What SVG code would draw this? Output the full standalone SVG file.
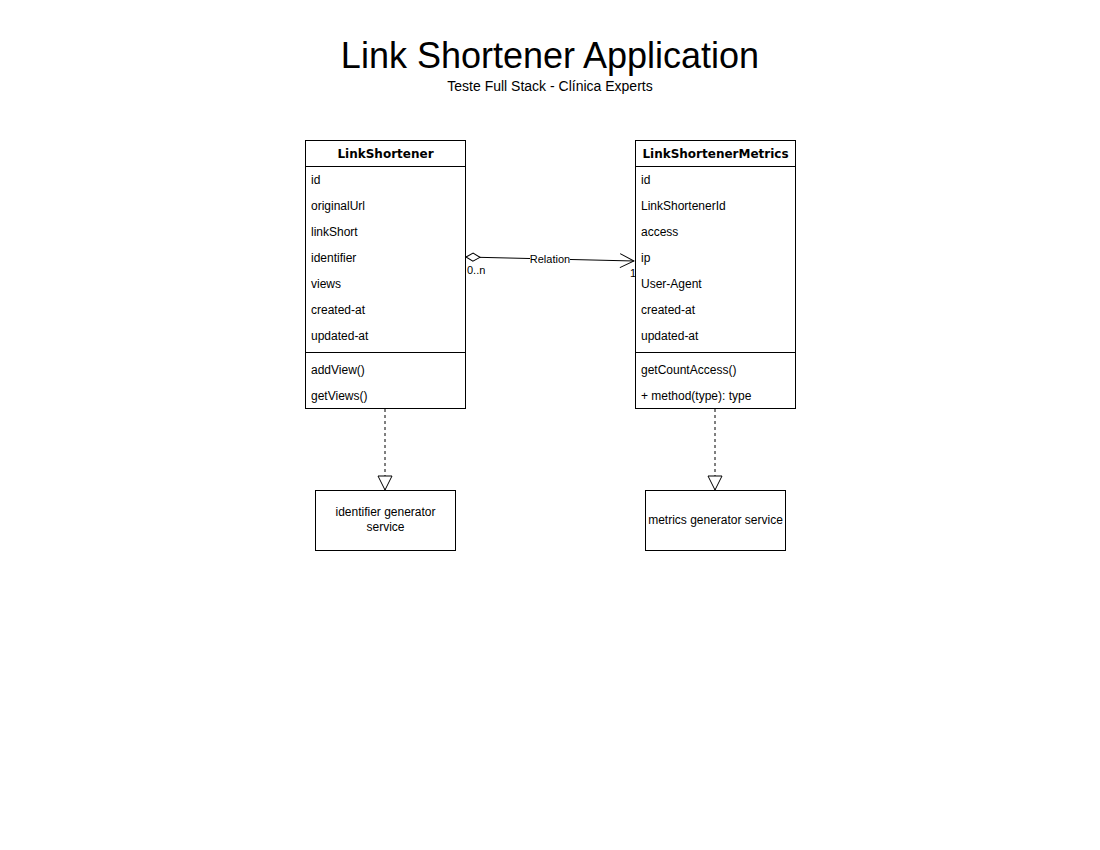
<svg xmlns="http://www.w3.org/2000/svg" width="1100" height="850" viewBox="0 0 1100 850">
<defs>
<style>
text{font-family:"Liberation Sans",Arial,sans-serif;fill:#000}
.t{font-size:12px}
.h{font-family:"DejaVu Sans",Verdana,sans-serif;font-size:12px;font-weight:bold}
.box{fill:#fff;stroke:#000;stroke-width:1}
.ln{stroke:#000;stroke-width:1;fill:none}
.dash{stroke:#000;stroke-width:1;fill:none;stroke-dasharray:3 3}
</style>
<marker id="tri" viewBox="0 0 16 16" refX="15" refY="8" markerWidth="16" markerHeight="16" markerUnits="userSpaceOnUse" orient="auto">
<path d="M1,1 L15,8 L1,15 Z" fill="#fff" stroke="#000" stroke-width="1"/>
</marker>
<marker id="open" viewBox="0 0 16 16" refX="15" refY="8" markerWidth="16" markerHeight="16" markerUnits="userSpaceOnUse" orient="auto">
<path d="M1,1 L15,8 L1,15" fill="none" stroke="#000" stroke-width="1"/>
</marker>
<marker id="dia" viewBox="0 0 18 10" refX="1" refY="5" markerWidth="18" markerHeight="10" markerUnits="userSpaceOnUse" orient="auto">
<path d="M1,5 L8,1 L15,5 L8,9 Z" fill="#fff" stroke="#000" stroke-width="1"/>
</marker>
</defs>
<rect width="1100" height="850" fill="#fff"/>
<g id="title">
<text x="550" y="68" font-size="36" text-anchor="middle">Link Shortener Application</text>
<text x="550" y="91" font-size="14" text-anchor="middle">Teste Full Stack - Clínica Experts</text>
</g>
<g id="connectors">
<path class="ln" d="M466,257 L634,261" marker-start="url(#dia)" marker-end="url(#open)"/>
<rect x="530" y="252" width="40" height="14" fill="#fff"/>
<text class="t" x="550" y="263" font-size="11" text-anchor="middle" style="font-size:11px">Relation</text>
<text class="t" x="467" y="274" style="font-size:11px">0..n</text>
<text class="t" x="630" y="277" style="font-size:11px">1</text>
<path class="dash" d="M385,409 L385,490" marker-end="url(#tri)"/>
<path class="dash" d="M715,409 L715,490" marker-end="url(#tri)"/>
</g>
<g id="LinkShortener">
<rect class="box" x="305.5" y="140.5" width="160" height="268"/>
<line class="ln" x1="305.5" y1="166.5" x2="465.5" y2="166.5"/>
<line class="ln" x1="305.5" y1="352.5" x2="465.5" y2="352.5"/>
<text class="h" x="385.5" y="158" text-anchor="middle">LinkShortener</text>
<text class="t" x="311" y="184">id</text>
<text class="t" x="311" y="210">originalUrl</text>
<text class="t" x="311" y="236">linkShort</text>
<text class="t" x="311" y="262">identifier</text>
<text class="t" x="311" y="288">views</text>
<text class="t" x="311" y="314">created-at</text>
<text class="t" x="311" y="340">updated-at</text>
<text class="t" x="311" y="374">addView()</text>
<text class="t" x="311" y="400">getViews()</text>
</g>
<g id="LinkShortenerMetrics">
<rect class="box" x="635.5" y="140.5" width="160" height="268"/>
<line class="ln" x1="635.5" y1="166.5" x2="795.5" y2="166.5"/>
<line class="ln" x1="635.5" y1="352.5" x2="795.5" y2="352.5"/>
<text class="h" x="715.5" y="158" text-anchor="middle">LinkShortenerMetrics</text>
<text class="t" x="641" y="184">id</text>
<text class="t" x="641" y="210">LinkShortenerId</text>
<text class="t" x="641" y="236">access</text>
<text class="t" x="641" y="262">ip</text>
<text class="t" x="641" y="288">User-Agent</text>
<text class="t" x="641" y="314">created-at</text>
<text class="t" x="641" y="340">updated-at</text>
<text class="t" x="641" y="374">getCountAccess()</text>
<text class="t" x="641" y="400">+ method(type): type</text>
</g>
<g id="identifierService">
<rect class="box" x="315.5" y="490.5" width="140" height="60"/>
<text class="t" x="385.5" y="516" text-anchor="middle">identifier generator</text>
<text class="t" x="385.5" y="531" text-anchor="middle">service</text>
</g>
<g id="metricsService">
<rect class="box" x="645.5" y="490.5" width="140" height="60"/>
<text class="t" x="715.5" y="524" text-anchor="middle">metrics generator service</text>
</g>
</svg>
